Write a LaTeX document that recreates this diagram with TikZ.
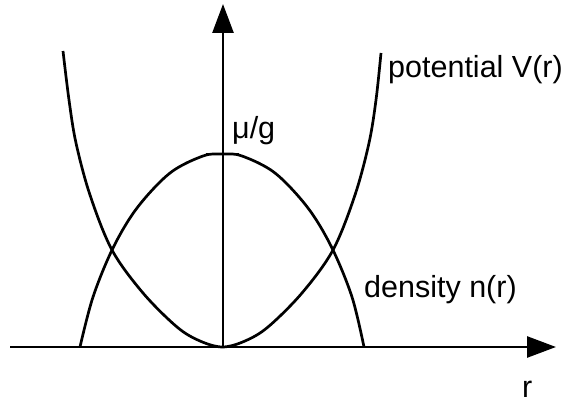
\documentclass[tikz,border=0pt]{standalone}
\usepackage{fontspec}
\setmainfont{Liberation Sans}
\usetikzlibrary{arrows.meta}
\begin{document}
\begin{tikzpicture}[x=1pt,y=-1pt,
  curve/.style={line width=2.7pt},
  axis/.style={line width=2.7pt,-{Triangle[length=29pt,width=21pt]}},
  lbl/.style={anchor=base west,inner sep=0pt,font=\fontsize{30.5}{36}\selectfont}]
\useasboundingbox (0,0) rectangle (568,403);
\coordinate (xstart) at (10,347);
\coordinate (xend) at (556,347);
\coordinate (O) at (223,347);
\coordinate (ytop) at (223,4);
\coordinate (tickL) at (206,154);
\coordinate (tickR) at (239,154);
% potential
\draw[curve] plot[smooth,tension=0.55] coordinates {(63,51) (69,100) (76,143) (90,195) (112,250) (143,293) (177,327) (200,341) (222.5,347) (245,341) (268,327) (302,293) (333,250) (355,195) (369,143) (376,100) (381,53)};
% density
\draw[curve] plot[smooth,tension=0.55] coordinates {(80,347) (93,297) (113,248) (137,208) (170,173) (203,156) (222.5,154) (242,156) (275,173) (308,208) (332,248) (352,297) (364,347)};
\draw[axis] (xstart) -- (xend);
\draw[axis] (O) -- (ytop);
\draw[line width=2.7pt] (tickL) -- (tickR);
\node[lbl] (mu) at (232,139) {μ/g};
\node[lbl] (pot) at (388,78) {potential V(r)};
\node[lbl] (dens) at (364,298) {density n(r)};
\node[lbl] (r) at (522,398) {r};
\end{tikzpicture}
\end{document}
